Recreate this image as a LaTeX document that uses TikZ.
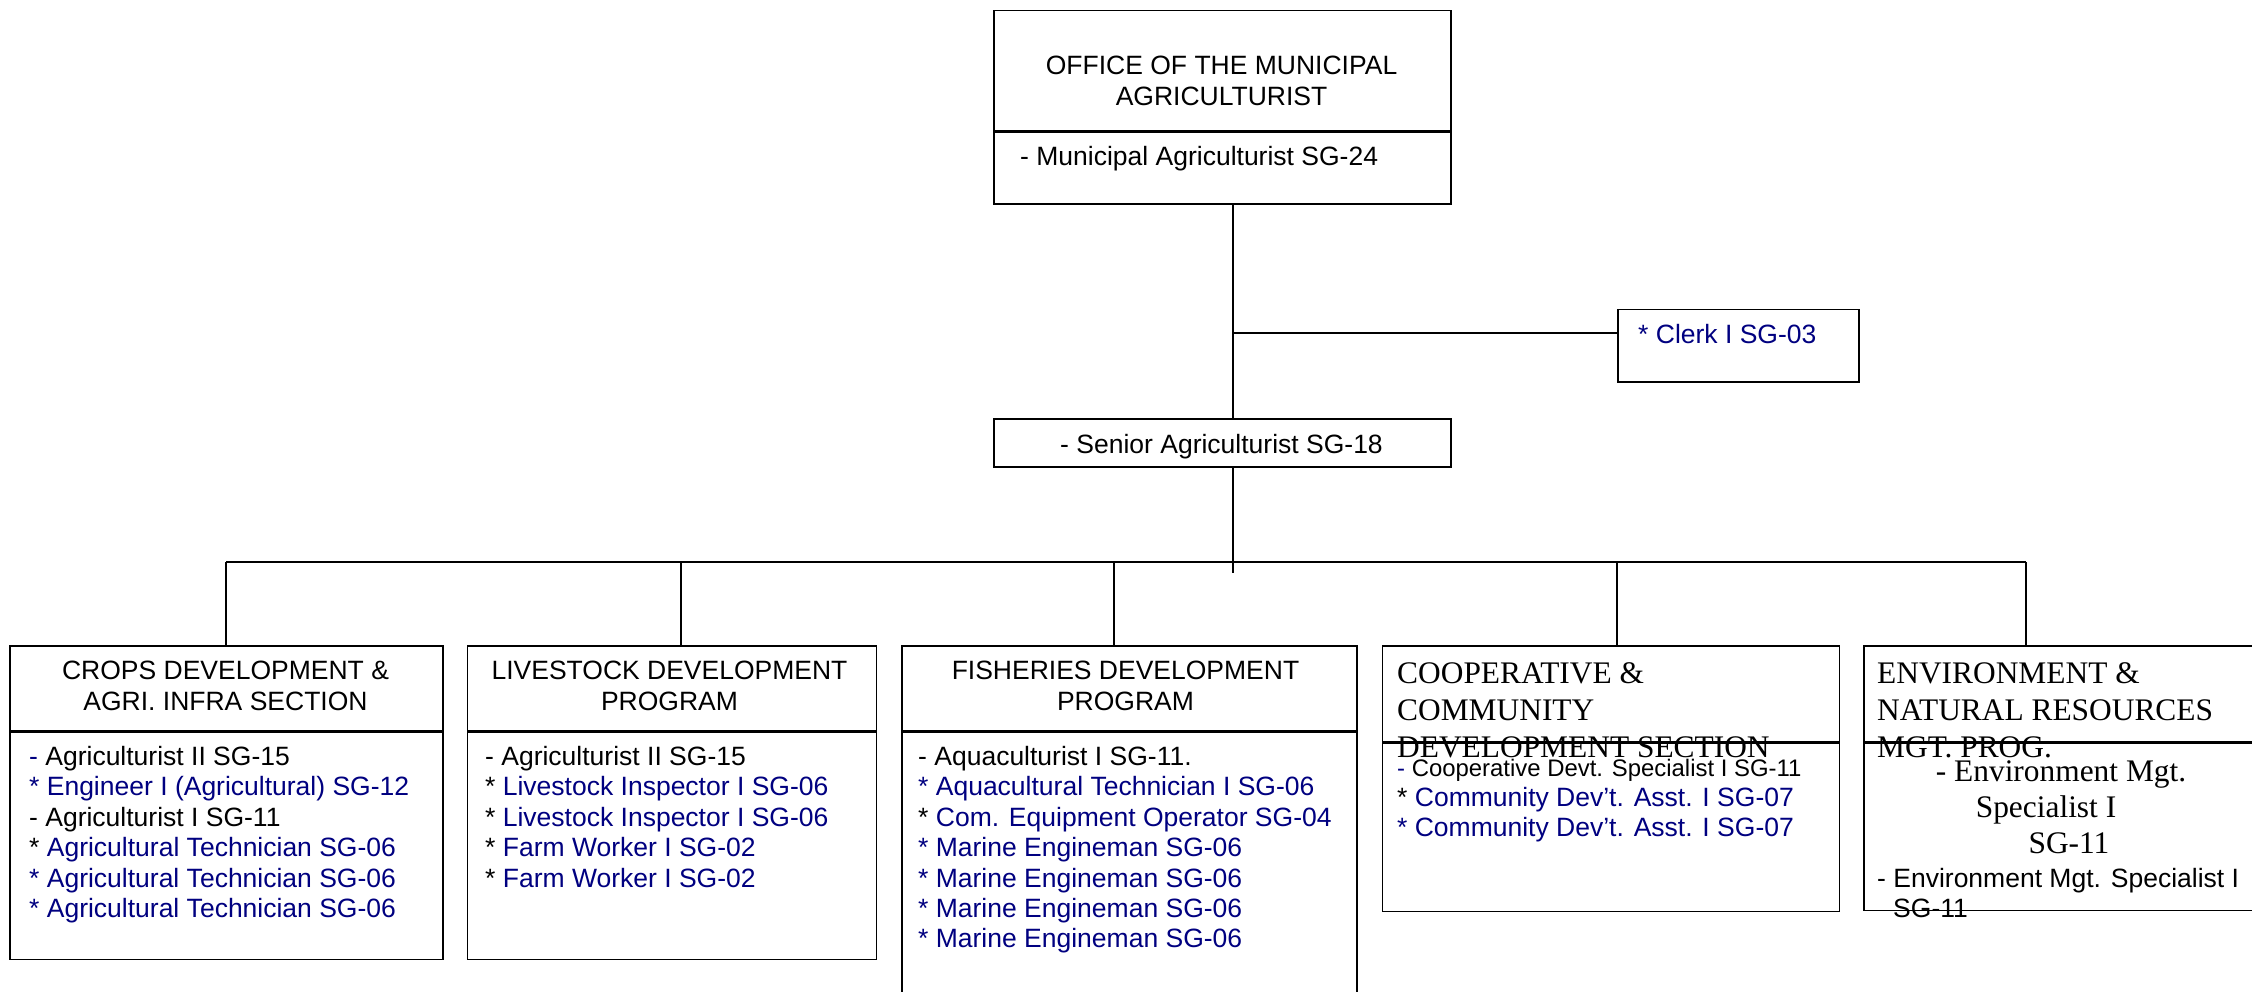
\documentclass[tikz,border=0pt]{standalone}
\usepackage{fontspec}
\setmainfont{Liberation Sans}
\newfontfamily\timesface{Liberation Serif}
\usetikzlibrary{positioning}

\definecolor{navy}{RGB}{0,0,128}
\newcommand{\blu}[1]{\textcolor{navy}{#1}}

\tikzset{
  orgbox/.style={draw, line width=1.5pt, inner sep=0pt, anchor=north west},
  headtxt/.style={font=\fontsize{26.5pt}{31pt}\selectfont, align=center, inner sep=0pt},
  serifhead/.style={font=\fontsize{31.4pt}{37pt}\timesface, align=left, inner sep=0pt, anchor=west},
  serifitem/.style={font=\fontsize{31.4pt}{37pt}\timesface, inner sep=0pt, anchor=base},
  item/.style={font=\fontsize{26.5pt}{30.4pt}\selectfont, inner sep=0pt, anchor=base west},
  link/.style={line width=1.4pt},
}

\begin{document}
\begin{tikzpicture}[x=1pt, y=-1pt]
    \fill[white] (0,0) rectangle (2252,992);
    \useasboundingbox (0,0) rectangle (2252,992);

    % office and staff
    \node[orgbox, minimum width=457pt, minimum height=120pt] (topH) at (993,10) {};
    \node[orgbox, minimum width=457pt, minimum height=72pt, below=0pt of topH] (topB) {};
    \node[orgbox, minimum width=241pt, minimum height=72pt] (clerk) at (1617,309) {};
    \node[orgbox, minimum width=457pt, minimum height=48pt] (senior) at (993,418) {};

    % sections
    \node[orgbox, minimum width=433pt, minimum height=85pt] (cropsH) at (9,645) {};
    \node[orgbox, minimum width=433pt, minimum height=227pt, below=0pt of cropsH] (cropsB) {};
    \node[orgbox, minimum width=409pt, minimum height=85pt,
          right=23pt of cropsH.north east, anchor=north west] (liveH) {};
    \node[orgbox, minimum width=409pt, minimum height=227pt, below=0pt of liveH] (liveB) {};
    \node[orgbox, minimum width=455pt, minimum height=85pt,
          right=24pt of liveH.north east, anchor=north west] (fishH) {};
    \node[orgbox, minimum width=455pt, minimum height=300pt, below=0pt of fishH] (fishB) {};
    \node[orgbox, minimum width=457pt, minimum height=96pt,
          right=24pt of fishH.north east, anchor=north west] (coopH) {};
    \node[orgbox, minimum width=457pt, minimum height=168pt, below=0pt of coopH] (coopB) {};
    \node[orgbox, minimum width=440pt, minimum height=96pt,
          right=23pt of coopH.north east, anchor=north west] (envH) {};
    \node[orgbox, minimum width=440pt, minimum height=167pt, below=0pt of envH] (envB) {};

    % connectors
    \coordinate (spine) at (1233,333);
    \coordinate (spineend) at (1233,573);
    \draw[link] (spine |- topB.south) -- (spine |- senior.north);
    \draw[link] (spine) -- (spine -| clerk.west);
    \draw[link] (spine |- senior.south) -- (spineend);

    \coordinate (d1) at (226,562);
    \coordinate (d2) at (681,562);
    \coordinate (d3) at (1114,562);
    \coordinate (d4) at (1617,562);
    \coordinate (d5) at (2026,562);
    \draw[line width=2pt] (d1) -- (d5);
    \foreach \d/\b in {d1/cropsH, d2/liveH, d3/fishH, d4/coopH, d5/envH}
      \draw[link] (\d) -- (\d |- \b.north);

    % texts
    \node[headtxt] (topT) at (1221.5,81) {OFFICE OF THE MUNICIPAL\\AGRICULTURIST};
    \node[item] (topI) at (1020,166) {- Municipal Agriculturist SG-24};
    \node[item] (clerkI) at (1638,344) {\blu{* Clerk I SG-03}};
    \node[item, anchor=base] (seniorI) at (1221.5,453) {- Senior Agriculturist SG-18};

    \node[headtxt] (cropsT) at (225.5,686) {CROPS DEVELOPMENT \&\\AGRI. INFRA SECTION};
    \node[headtxt] (liveT) at (669.5,686) {LIVESTOCK DEVELOPMENT\\PROGRAM};
    \node[headtxt] (fishT) at (1125.5,686) {FISHERIES DEVELOPMENT\\PROGRAM};
    \node[serifhead] (coopT) at (1397,710) {COOPERATIVE \&\\COMMUNITY\\DEVELOPMENT SECTION};
    \node[serifhead] (envT) at (1877,710) {ENVIRONMENT \&\\NATURAL RESOURCES\\MGT. PROG.};

    \foreach \t [count=\i] in {{\blu{-} Agriculturist II SG-15},
        {\blu{* Engineer I (Agricultural) SG-12}},
        {- Agriculturist I SG-11},
        {* \blu{Agricultural Technician SG-06}},
        {\blu{* Agricultural Technician SG-06}},
        {\blu{* Agricultural Technician SG-06}}}
      \node[item] (crops\i) at (29,{735.1+30.4*\i}) {\t};

    \foreach \t [count=\i] in {{- Agriculturist II SG-15},
        {* \blu{Livestock Inspector I SG-06}},
        {* \blu{Livestock Inspector I SG-06}},
        {* \blu{Farm Worker I SG-02}},
        {* \blu{Farm Worker I SG-02}}}
      \node[item] (live\i) at (485,{735.1+30.4*\i}) {\t};

    \foreach \t [count=\i] in {{- Aquaculturist I SG-11.},
        {\blu{* Aquacultural Technician I SG-06}},
        {* \blu{Com. Equipment Operator SG-04}},
        {\blu{* Marine Engineman SG-06}},
        {\blu{* Marine Engineman SG-06}},
        {\blu{* Marine Engineman SG-06}},
        {\blu{* Marine Engineman SG-06}}}
      \node[item] (fish\i) at (918,{735.1+30.4*\i}) {\t};

    \node[item, font=\fontsize{23.9pt}{27pt}\selectfont] (coop1) at (1397,776)
      {\blu{-} Cooperative Devt. Specialist I SG-11};
    \node[item] (coop2) at (1397,806.7) {* \blu{Community Dev’t. Asst. I SG-07}};
    \node[item] (coop3) at (1397,836.5) {\blu{* Community Dev’t. Asst. I SG-07}};

    \node[serifitem] (env1) at (2061,781) {- Environment Mgt.};
    \node[serifitem] (env2) at (2046,817) {Specialist I};
    \node[serifitem] (env3) at (2069,853) {SG-11};
    \node[item] (env4) at (1877,887) {- Environment Mgt. Specialist I};
    \node[item] (env5) at (1893,917) {SG-11};
\end{tikzpicture}
\end{document}
